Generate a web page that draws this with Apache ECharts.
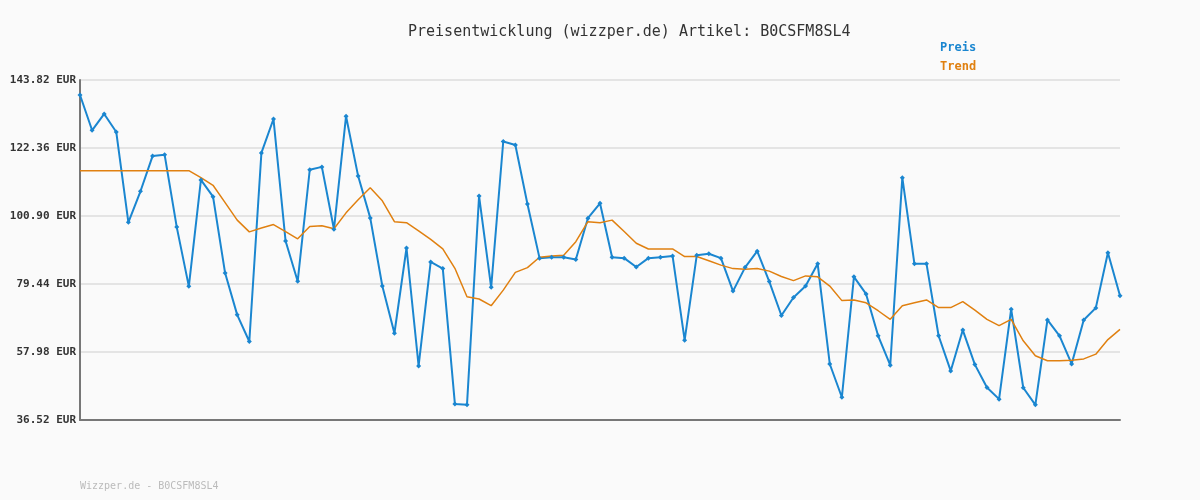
<!DOCTYPE html>
<html><head><meta charset="utf-8">
<script src="https://cdn.jsdelivr.net/npm/echarts@6/dist/echarts.min.js"></script>
<style>html,body{margin:0;background:#fafafa}#c{width:1200px;height:500px}</style>
</head><body><div id="c"></div>
<script>
const preis = [139.1,127.95,133.1,127.4,98.9,108.7,119.8,120.2,97.4,78.7,112.3,107.0,82.9,69.7,61.3,120.8,131.5,93.0,80.3,115.5,116.4,96.7,132.4,113.5,100.3,78.8,63.9,90.8,53.6,86.4,84.3,41.6,41.3,107.2,78.4,124.4,123.3,104.7,87.6,87.9,87.9,87.2,100.2,104.9,87.9,87.6,84.8,87.6,87.9,88.3,61.7,88.5,89.0,87.6,77.2,84.7,89.8,80.2,69.5,75.2,78.8,85.8,54.2,43.7,81.7,76.3,63.1,53.8,113.0,85.8,85.8,63.1,52.0,64.9,54.0,46.8,43.1,71.5,46.7,41.3,68.1,63.1,54.2,68.1,71.9,89.3,75.7];
const trend = [115.2,115.2,115.2,115.2,115.2,115.2,115.2,115.2,115.2,115.2,113.0,110.6,105.1,99.6,95.9,97.1,98.2,96.0,93.7,97.6,97.8,96.9,101.9,106.0,109.8,105.7,99.1,98.8,96.2,93.5,90.5,84.4,75.4,74.7,72.6,77.5,83.1,84.6,87.9,88.3,88.5,92.8,99.1,98.8,99.6,96.0,92.3,90.5,90.5,90.5,88.1,88.1,86.8,85.4,84.3,84.1,84.3,83.5,81.8,80.5,82.0,81.7,78.8,74.2,74.4,73.5,71.0,68.3,72.6,73.5,74.4,72.0,72.0,73.9,71.2,68.3,66.3,68.3,61.5,56.8,55.2,55.2,55.4,55.8,57.3,61.9,65.1];
const categories = preis.map((_, i) => String(i + 1));
const yMin = 36.52, yMax = 143.82, yStep = 21.46;
const font = '"DejaVu Sans Mono", monospace';
const chart = echarts.init(document.getElementById('c'));
chart.setOption({
  backgroundColor: '#fafafa',
  animation: false,
  title: { text: 'Preisentwicklung (wizzper.de) Artikel: B0CSFM8SL4', left: 403, top: 20,
    textStyle: { fontFamily: font, fontSize: 15, fontWeight: 'normal', color: '#333' } },
  graphic: [{ type: 'text', left: 80, top: 481, style: { text: 'Wizzper.de - B0CSFM8SL4', fill: '#bbb', font: '10px ' + font } }],
  legend: { orient: 'vertical', left: 930, top: 36, icon: 'none', itemGap: 6, itemWidth: 0,
    textStyle: { fontFamily: font, fontSize: 12, fontWeight: 'bold' },
    data: [{ name: 'Preis', textStyle: { color: '#1a86d0' } }, { name: 'Trend', textStyle: { color: '#e08010' } }] },
  grid: { left: 80, right: 80, top: 80, bottom: 80 },
  xAxis: { type: 'category', data: categories, boundaryGap: false,
    axisLine: { lineStyle: { color: '#777', width: 2 } }, axisTick: { show: false }, axisLabel: { show: false } },
  yAxis: { type: 'value', min: yMin, max: yMax, interval: yStep,
    axisLine: { show: true, lineStyle: { color: '#777', width: 2 } }, axisTick: { show: false },
    splitLine: { lineStyle: { color: '#e4e4e4', width: 2 } },
    axisLabel: { fontFamily: font, fontSize: 11, fontWeight: 'bold', color: '#333', margin: 4,
      formatter: v => v.toFixed(2) + ' EUR' } },
  series: [
    { name: 'Preis', type: 'line', data: preis, symbol: 'diamond', symbolSize: 5,
      lineStyle: { color: '#1a86d0', width: 2 }, itemStyle: { color: '#1a86d0' } },
    { name: 'Trend', type: 'line', data: trend, showSymbol: false,
      lineStyle: { color: '#e08010', width: 1.5 }, itemStyle: { color: '#e08010' } }
  ]
});
</script></body></html>
